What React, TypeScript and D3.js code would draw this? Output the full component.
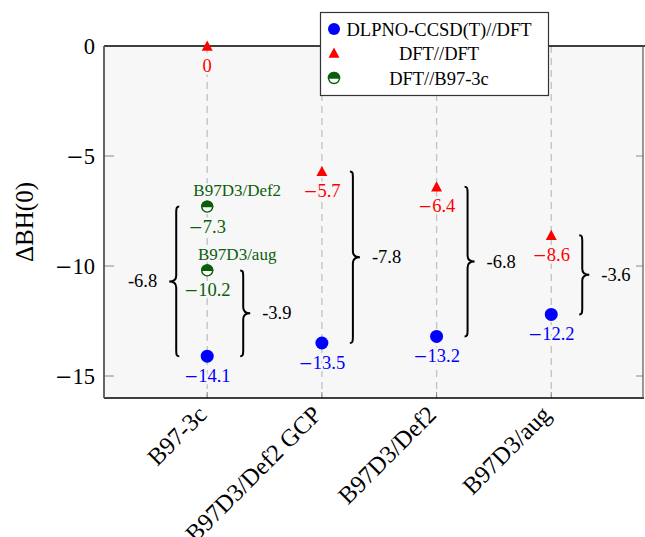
import React from 'react';
import * as d3 from 'd3';

// ---- data ----
const categories = ['B97-3c', 'B97D3/Def2 GCP', 'B97D3/Def2', 'B97D3/aug'];
const dlpnoValues = [-14.1, -13.5, -13.2, -12.2];
const dftValues = [0, -5.7, -6.4, -8.6];
const b97Methods = ['B97D3/Def2', 'B97D3/aug'];
const b97Values = [-7.3, -10.2];
const yTicks = [0, -5, -10, -15];
const seriesNames = ['DLPNO-CCSD(T)//DFT', 'DFT//DFT', 'DFT//B97-3c'];

// ---- layout ----
const W = 645, H = 537;
const L = 104, R = 643, T = 46, B = 398;
const FONT = '"Liberation Serif", "Times New Roman", serif';
const MINUS_FONT = '"DejaVu Serif", serif';
const BLUE = '#0000ff', RED = '#ff0000', GREEN = '#0b5e0b', BG = '#f7f7f7';

const x = d3.scaleLinear().domain([-0.9, 3.8]).range([L, R]);
const y = d3.scaleLinear().domain([-16, 0]).range([B, T]);

function fmt(v: number) {
  if (v === 0) return { neg: false, s: '0' };
  return { neg: v < 0, s: Math.abs(v).toFixed(1) };
}

function Num({ v, cx, by, size, color }: { v: number; cx: number; by: number; size: number; color: string }) {
  const f = fmt(v);
  return (
    <text x={cx} y={by} textAnchor="middle" fontFamily={FONT} fontSize={size} fill={color}
      stroke={BG} strokeWidth={5} paintOrder="stroke" strokeLinejoin="round">
      {f.neg ? <tspan fontFamily={MINUS_FONT} fontSize={size * 0.92}>−</tspan> : null}
      <tspan>{f.s}</tspan>
    </text>
  );
}

function bracePath(x0: number, y1: number, y2: number, d: number) {
  const ym = (y1 + y2) / 2;
  const h = 3, tip = 7;
  return [
    `M${x0 - h * d},${y1}`,
    `C${x0 - 0.5 * d},${y1} ${x0},${y1 + 1} ${x0},${y1 + 6}`,
    `L${x0},${ym - 6}`,
    `C${x0},${ym - 1.5} ${x0 + 3 * d},${ym} ${x0 + tip * d},${ym}`,
    `C${x0 + 3 * d},${ym} ${x0},${ym + 1.5} ${x0},${ym + 6}`,
    `L${x0},${y2 - 6}`,
    `C${x0},${y2 - 1} ${x0 - 0.5 * d},${y2} ${x0 - h * d},${y2}`,
  ].join(' ');
}

function Tri({ cx, cy, color }: { cx: number; cy: number; color: string }) {
  const s = 5.5;
  return <path d={`M${cx},${cy - s} L${cx + s},${cy + s * 0.85} L${cx - s},${cy + s * 0.85} Z`} fill={color} />;
}

function Half({ cx, cy }: { cx: number; cy: number }) {
  const r = 5.5;
  return (
    <g>
      <circle cx={cx} cy={cy} r={r} fill="#ffffff" stroke={GREEN} strokeWidth={1.4} />
      <path d={`M${cx - r},${cy} A${r},${r} 0 0 1 ${cx + r},${cy} Z`} fill={GREEN} stroke={GREEN} strokeWidth={1.4} />
    </g>
  );
}

export default function App() {
  const braces = [
    { cat: 0, top: b97Values[0], bot: dlpnoValues[0], d: -1, off: -31 },
    { cat: 0, top: b97Values[1], bot: dlpnoValues[0], d: 1, off: 36 },
    ...categories.slice(1).map((_, k) => ({ cat: k + 1, top: dftValues[k + 1], bot: dlpnoValues[k + 1], d: 1, off: 31 })),
  ];

  return (
    <svg width={W} height={H} style={{ position: 'absolute', left: 0, top: 0, background: '#fff' }}>
      {/* plot background */}
      <rect x={L} y={T} width={R - L} height={B - T} fill={BG} />

      {/* dashed category lines */}
      {categories.map((c, i) => (
        <line key={c} x1={x(i)} x2={x(i)} y1={T} y2={B} stroke="#c4c4c4" strokeWidth={1.4} strokeDasharray="7,5" />
      ))}

      {/* ticks */}
      {yTicks.filter(t => t !== 0).map(t => (
        <g key={t}>
          <line x1={L} x2={L + 10} y1={y(t)} y2={y(t)} stroke="#8a8a8a" strokeWidth={1} />
          <line x1={R - 7} x2={R} y1={y(t)} y2={y(t)} stroke="#8a8a8a" strokeWidth={1} />
        </g>
      ))}
      {categories.map((c, i) => (
        <line key={'xt' + c} x1={x(i)} x2={x(i)} y1={B - 6} y2={B} stroke="#8a8a8a" strokeWidth={1} />
      ))}

      {/* frame */}
      <line x1={L} x2={W} y1={T} y2={T} stroke="#000" strokeWidth={1.5} />
      <line x1={L} x2={R + 1} y1={B} y2={B} stroke="#000" strokeWidth={1.5} />
      <line x1={L} x2={L} y1={T} y2={B} stroke="#555" strokeWidth={1.8} />
      <line x1={R} x2={R} y1={T} y2={B} stroke="#555" strokeWidth={1.2} />

      {/* y tick labels */}
      {yTicks.map(t => (
        <text key={'yl' + t} x={95} y={y(t) + 8} textAnchor="end" fontFamily={FONT} fontSize={22.5} fill="#000">
          {t < 0 ? <tspan fontFamily={MINUS_FONT} fontSize={21}>−</tspan> : null}
          <tspan>{Math.abs(t)}</tspan>
        </text>
      ))}

      {/* y axis title */}
      <text transform={`translate(33,222) rotate(-90)`} textAnchor="middle" fontFamily={FONT} fontSize={25} fill="#000">
        ΔBH(0)
      </text>

      {/* category labels */}
      {categories.map((c, i) => (
        <text key={'cl' + c} transform={`translate(${x(i) - 5},${B + 12}) rotate(-45)`} textAnchor="end"
          dominantBaseline="central" fontFamily={FONT} fontSize={24.5} fill="#000">
          {c}
        </text>
      ))}

      {/* braces */}
      {braces.map((b, k) => {
        const x0 = x(b.cat) + b.off;
        const ym = (y(b.top) + y(b.bot)) / 2;
        const label = (b.bot - b.top).toFixed(1);
        return (
          <g key={'br' + k}>
            <path d={bracePath(x0, y(b.top), y(b.bot), b.d)} fill="none" stroke="#000" strokeWidth={2} />
            <text x={x0 + b.d * 19} y={ym + 6} textAnchor={b.d > 0 ? 'start' : 'end'} fontFamily={FONT}
              fontSize={18.5} fill="#000">{label}</text>
          </g>
        );
      })}

      {/* DFT//B97-3c points */}
      {b97Values.map((v, j) => (
        <g key={'g' + j}>
          <Half cx={x(0)} cy={y(v)} />
          <text x={x(0) + 30} y={y(v) - 10.5} textAnchor="middle" fontFamily={FONT} fontSize={17} fill={GREEN}
            stroke={BG} strokeWidth={4} paintOrder="stroke">{b97Methods[j]}</text>
          <Num v={v} cx={x(0)} by={y(v) + 26} size={18.5} color={GREEN} />
        </g>
      ))}

      {/* DFT//DFT */}
      {dftValues.map((v, i) => (
        <g key={'r' + i}>
          <Tri cx={x(i)} cy={y(v)} color={RED} />
          <Num v={v} cx={x(i)} by={y(v) + 25.5} size={18.5} color={RED} />
        </g>
      ))}

      {/* DLPNO */}
      {dlpnoValues.map((v, i) => (
        <g key={'b' + i}>
          <circle cx={x(i)} cy={y(v)} r={6.5} fill={BLUE} />
          <Num v={v} cx={x(i)} by={y(v) + 26} size={18.5} color={BLUE} />
        </g>
      ))}

      {/* legend */}
      <g>
        <rect x={320.5} y={12.5} width={228} height={83} fill="#fff" stroke="#333" strokeWidth={1.2} />
        <circle cx={334} cy={29} r={6} fill={BLUE} />
        <Tri cx={334} cy={53} color={RED} />
        <Half cx={334} cy={78} />
        {seriesNames.map((s, k) => (
          <text key={s} x={439} y={[29, 53, 78][k] + 6.5} textAnchor="middle" fontFamily={FONT} fontSize={18.5} fill="#000">{s}</text>
        ))}
      </g>
    </svg>
  );
}
